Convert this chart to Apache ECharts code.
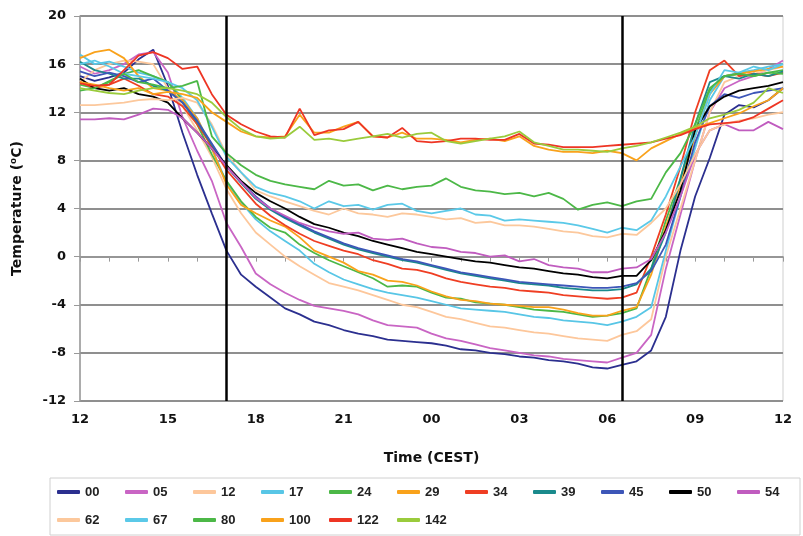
<!DOCTYPE html>
<html>
<head>
<meta charset="utf-8">
<script src="https://cdn.jsdelivr.net/npm/echarts@6/dist/echarts.min.js"></script>
<style>
html,body{margin:0;padding:0;background:#fff;}
#chart{width:803px;height:536px;}
</style>
</head>
<body>
<div id="chart"></div>
<script>
// hours since 12:00 CEST
var hours = [0,0.5,1,1.5,2,2.5,3,3.5,4,4.5,
	5,5.5,6,6.5,7,7.5,8,8.5,9,9.5,
	10,10.5,11,11.5,12,12.5,13,13.5,14,14.5,
	15,15.5,16,16.5,17,17.5,18,18.5,19,19.5,
	20,20.5,21,21.5,22,22.5,23,23.5,24];
var levels = ["00","05","12","17","24","29","34","39","45","50","54","62","67","80","100","122","142"];
var yTicks = [-12,-8,-4,0,4,8,12,16,20];
var markTimes = [5, 18.5]; // 17:00 and 06:30

var t00 = [15.0,14.6,14.9,15.3,16.4,17.2,14.2,10.3,6.8,3.6,
	0.5,-1.5,-2.5,-3.4,-4.3,-4.8,-5.4,-5.7,-6.1,-6.4,
	-6.6,-6.9,-7.0,-7.1,-7.2,-7.4,-7.7,-7.8,-8.0,-8.1,
	-8.3,-8.4,-8.6,-8.7,-8.9,-9.2,-9.3,-9.0,-8.7,-7.8,
	-5.0,0.5,5.0,8.2,11.8,12.6,12.4,13.0,14.0];
var t05 = [15.8,15.2,15.5,16.0,16.8,17.0,15.3,11.6,8.8,6.3,
	2.8,0.8,-1.4,-2.3,-3.0,-3.6,-4.1,-4.3,-4.5,-4.8,
	-5.3,-5.7,-5.8,-5.9,-6.4,-6.8,-7.0,-7.3,-7.6,-7.8,
	-8.0,-8.2,-8.3,-8.5,-8.6,-8.7,-8.8,-8.4,-8.0,-6.5,
	-1.0,3.5,8.0,12.0,14.0,14.6,15.0,15.6,16.3];
var t12 = [14.5,15.5,16.0,16.3,16.2,16.0,14.0,12.5,10.5,8.3,
	5.6,3.6,2.0,1.0,0.0,-0.8,-1.5,-2.2,-2.5,-2.8,
	-3.2,-3.6,-4.0,-4.2,-4.6,-5.0,-5.2,-5.5,-5.8,-5.9,
	-6.1,-6.3,-6.4,-6.6,-6.8,-6.9,-7.0,-6.5,-6.2,-5.2,
	0.0,4.0,8.0,12.0,14.5,15.0,15.2,15.5,15.8];
var t17 = [16.8,16.0,16.2,15.8,15.3,15.0,14.5,13.2,11.5,9.0,
	6.2,4.5,3.1,2.1,1.3,0.5,-0.6,-1.3,-1.9,-2.3,
	-2.7,-3.0,-3.2,-3.4,-3.7,-4.0,-4.3,-4.4,-4.5,-4.6,
	-4.8,-5.0,-5.1,-5.3,-5.4,-5.5,-5.7,-5.4,-5.0,-4.2,
	0.5,5.0,9.0,13.0,15.0,15.3,15.5,15.8,16.0];
var t24 = [14.3,14.0,14.5,15.2,15.5,15.0,14.5,13.0,11.0,8.5,
	6.3,4.6,3.3,2.4,2.0,1.0,0.3,-0.3,-0.8,-1.3,
	-1.8,-2.5,-2.4,-2.5,-3.0,-3.4,-3.5,-3.8,-3.9,-4.0,
	-4.2,-4.4,-4.5,-4.6,-4.8,-5.0,-4.9,-4.7,-4.3,-1.0,
	3.0,6.5,10.5,13.8,15.0,15.2,15.0,15.3,15.5];
var t29 = [16.5,17.0,17.2,16.5,15.0,14.0,13.8,13.0,11.5,9.0,
	6.0,4.3,3.6,3.0,2.5,1.6,0.5,0.0,-0.5,-1.2,
	-1.5,-2.0,-2.1,-2.4,-2.9,-3.3,-3.6,-3.7,-3.9,-4.0,
	-4.1,-4.2,-4.2,-4.4,-4.7,-4.9,-4.9,-4.5,-4.2,-1.5,
	2.5,6.0,10.0,13.5,15.0,15.2,15.4,15.6,15.8];
var t34 = [14.5,14.0,14.3,14.8,14.2,13.5,13.3,12.5,11.0,9.2,
	7.2,5.8,4.4,3.4,2.6,1.9,1.3,0.9,0.5,0.2,
	-0.3,-0.6,-1.0,-1.1,-1.4,-1.8,-2.1,-2.3,-2.5,-2.6,
	-2.8,-2.9,-3.0,-3.2,-3.3,-3.4,-3.5,-3.4,-3.0,0.0,
	3.5,7.5,12.0,15.5,16.3,15.0,15.2,15.0,15.3];
var t39 = [16.2,15.5,15.2,14.8,14.8,14.2,13.8,12.8,11.2,9.3,
	7.5,6.1,4.8,3.9,3.2,2.6,2.0,1.5,1.0,0.6,
	0.3,0.0,-0.3,-0.5,-0.8,-1.1,-1.4,-1.6,-1.8,-2.0,
	-2.2,-2.3,-2.4,-2.6,-2.7,-2.8,-2.8,-2.7,-2.3,-1.0,
	2.0,6.5,11.0,14.5,15.0,14.8,15.2,15.0,15.4];
var t45 = [15.4,15.0,15.3,15.0,14.5,14.8,13.8,12.8,11.3,9.4,
	7.5,6.2,5.0,4.0,3.3,2.7,2.1,1.6,1.1,0.7,
	0.4,0.1,-0.2,-0.4,-0.7,-1.0,-1.3,-1.5,-1.7,-1.9,
	-2.1,-2.2,-2.3,-2.4,-2.5,-2.6,-2.6,-2.5,-2.2,-1.2,
	1.0,5.0,9.5,12.5,13.5,13.2,13.6,13.8,14.0];
var t50 = [14.8,14.0,13.8,14.0,13.5,13.3,12.8,11.5,10.3,9.0,
	7.6,6.3,5.3,4.6,4.0,3.3,2.7,2.4,2.0,1.7,
	1.3,1.0,0.7,0.4,0.2,0.0,-0.2,-0.4,-0.5,-0.7,
	-0.9,-1.0,-1.2,-1.4,-1.5,-1.7,-1.8,-1.6,-1.6,-0.3,
	2.2,5.5,10.5,12.5,13.3,13.8,14.0,14.2,14.5];
var t54 = [11.4,11.4,11.5,11.4,11.8,12.3,12.2,11.5,10.3,9.0,
	7.5,6.2,4.9,4.0,3.4,2.8,2.4,2.1,1.9,2.0,
	1.5,1.4,1.5,1.1,0.8,0.7,0.4,0.3,0.0,0.1,
	-0.4,-0.2,-0.7,-0.9,-1.0,-1.3,-1.3,-1.0,-0.9,-0.2,
	2.0,5.0,8.5,10.5,11.0,10.5,10.5,11.2,10.6];
var t62 = [12.6,12.6,12.7,12.8,13.0,13.1,13.0,13.2,12.8,11.0,
	8.5,7.0,5.5,5.0,4.6,4.2,3.8,3.5,4.0,3.6,
	3.5,3.3,3.6,3.5,3.3,3.1,3.2,2.8,2.9,2.6,
	2.6,2.5,2.3,2.1,2.0,1.7,1.6,1.9,1.8,2.8,
	4.0,6.0,8.5,10.5,11.0,11.3,11.5,11.8,12.0];
var t67 = [16.0,16.3,15.8,15.2,15.0,14.8,14.5,14.0,13.0,10.8,
	8.3,7.0,5.8,5.3,5.0,4.6,4.0,4.6,4.2,4.3,
	3.9,4.3,4.4,3.8,3.6,3.8,4.0,3.5,3.4,3.0,
	3.1,3.0,2.9,2.8,2.6,2.3,2.0,2.4,2.2,3.0,
	5.0,7.5,10.0,13.5,15.5,15.3,15.8,15.5,16.0];
var t80 = [13.8,14.0,14.6,15.2,14.5,14.3,14.0,14.2,14.6,10.0,
	8.6,7.6,6.8,6.3,6.0,5.8,5.6,6.3,5.9,6.0,
	5.5,5.9,5.6,5.8,5.9,6.5,5.8,5.5,5.4,5.2,
	5.3,5.0,5.3,4.8,3.9,4.3,4.5,4.2,4.6,4.8,
	7.0,8.6,11.0,14.0,15.0,15.2,15.0,15.3,15.2];
var t100 = [14.5,14.3,14.0,13.8,14.0,13.5,13.7,13.5,13.2,12.0,
	11.2,10.4,10.0,9.9,10.0,11.8,10.3,10.3,10.8,11.2,
	10.0,9.9,10.3,9.8,9.8,9.7,9.5,9.7,9.8,9.6,
	10.0,9.2,8.9,8.7,8.7,8.6,8.8,8.6,8.0,9.0,
	9.6,10.2,10.7,11.1,11.5,11.9,12.5,13.0,14.0];
var t122 = [14.4,14.2,14.3,15.5,16.7,17.0,16.5,15.6,15.8,13.5,
	11.8,11.0,10.4,10.0,9.9,12.3,10.1,10.5,10.6,11.2,
	10.0,9.9,10.7,9.6,9.5,9.6,9.8,9.8,9.7,9.7,
	10.2,9.4,9.3,9.1,9.1,9.1,9.2,9.3,9.4,9.5,
	9.8,10.1,10.6,11.0,11.1,11.2,11.6,12.3,13.0];
var t142 = [14.0,13.8,13.6,13.5,13.8,14.0,14.0,13.8,13.5,12.8,
	11.6,10.6,10.0,9.8,9.9,10.8,9.7,9.8,9.6,9.8,
	10.0,10.2,9.9,10.2,10.3,9.6,9.4,9.6,9.8,10.0,
	10.4,9.5,9.2,8.9,8.9,8.8,8.7,9.0,9.2,9.5,
	9.9,10.3,10.8,11.5,11.8,12.2,12.8,14.0,13.6];

var values = [t00,t05,t12,t17,t24,t29,t34,t39,t45,t50,t54,t62,t67,t80,t100,t122,t142];
var colors = ['#2b2f8f','#c965c4','#fdc79b','#58c6e6','#4cb847','#f9a21b','#ef3e23','#1a8a8c','#3d56b8',
	'#000000','#c05cbf','#fcc89c','#5bc9e8','#4cb847','#f9a21b','#ee3524','#9acb3c'];

var dom = document.getElementById("chart");
var myChart = echarts.init(dom);

var series = [];
levels.forEach(function(name, ind){
	var pts = [];
	for (var i = 0; i < hours.length; i++) {
		pts.push([hours[i], values[ind][i]]);
	}
	var s = {
		name: name,
		type: 'line',
		data: pts,
		symbol: 'none',
		showSymbol: false,
		lineStyle: { width: 1.8, color: colors[ind] },
		itemStyle: { color: colors[ind] },
		animation: false
	};
	//two black vertical lines (17:00 / 06:30)
	if (ind == levels.length - 1) {
		s.markLine = {
			silent: true,
			symbol: 'none',
			label: { show: false },
			lineStyle: { color: '#000', width: 2.5, type: 'solid' },
			data: markTimes.map(function(t){ return { xAxis: t }; })
		};
	}
	series.push(s);
});

var option = {
	backgroundColor: '#fff',
	animation: false,
	grid: {
		left: 80, right: 20, top: 16, bottom: 135,
		show: true, borderColor: '#cfcfcf', borderWidth: 1
	},
	legend: {
		data: levels,
		left: 50, top: 478,
		orient: 'horizontal',
		padding: [3, 1, 4, 7],
		borderColor: '#d0d0d0', borderWidth: 1,
		icon: 'roundRect',
		itemWidth: 23, itemHeight: 4, itemGap: 6,
		textStyle: { fontFamily: 'Liberation Sans', fontWeight: 'bold', fontSize: 13, color: '#222', width: 34, lineHeight: 22 }
	},
	xAxis: {
		type: 'value',
		min: 0, max: 24, interval: 1,
		name: 'Time (CEST)',
		nameLocation: 'middle',
		nameGap: 50,
		nameTextStyle: { fontFamily: 'DejaVu Sans', fontWeight: 'bold', fontSize: 14, color: '#111' },
		axisLine: { lineStyle: { color: '#999', width: 1.5 } },
		axisTick: { show: true, length: 5, lineStyle: { color: '#999' } },
		splitLine: { show: false },
		axisLabel: {
			margin: 12,
			fontFamily: 'DejaVu Sans', fontWeight: 'bold', fontSize: 13, color: '#111',
			formatter: function(v){
				if (v % 3 != 0) return '';
				var h = (12 + v) % 24;
				return (h < 10 ? '0' : '') + h;
			}
		}
	},
	yAxis: {
		type: 'value',
		min: yTicks[0], max: yTicks[yTicks.length - 1], interval: 4,
		name: 'Temperature (\u2070C)',
		nameLocation: 'middle',
		nameGap: 56,
		nameTextStyle: { fontFamily: 'DejaVu Sans', fontWeight: 'bold', fontSize: 14, color: '#111' },
		axisLine: { show: true, lineStyle: { color: '#999', width: 1.5 } },
		axisTick: { show: true, length: 6, lineStyle: { color: '#999' } },
		splitLine: { lineStyle: { color: '#8f8f8f', width: 2 } },
		axisLabel: { margin: 14, fontFamily: 'DejaVu Sans', fontWeight: 'bold', fontSize: 13, color: '#111' }
	},
	series: series
};
if (option && typeof option === "object") {
	myChart.setOption(option, true);
}
</script>
</body>
</html>
